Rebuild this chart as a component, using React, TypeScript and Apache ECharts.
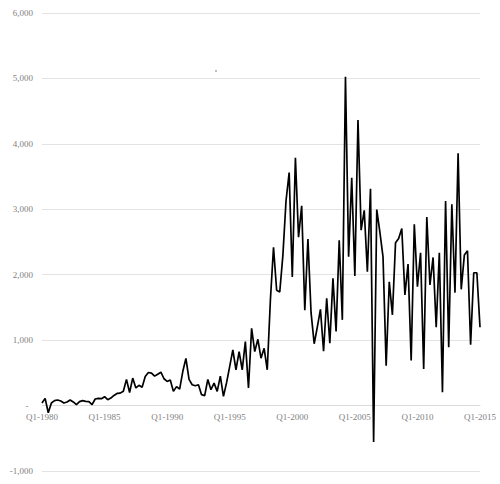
import React, { useEffect, useRef } from "react";
import * as echarts from "echarts";

const START_YEAR = 1980;
const COUNT = 141;
const categories: string[] = Array.from({ length: COUNT }, (_, i) => `Q${(i % 4) + 1}-${START_YEAR + Math.floor(i / 4)}`);

const values: number[] = [
  40, 110, -110, 40, 75, 85, 70, 40, 55, 85,
  55, 15, 60, 75, 65, 60, 15, 100, 110, 105,
  135, 90, 115, 155, 185, 190, 220, 400, 200, 420,
  270, 310, 280, 444, 505, 495, 450, 480, 510, 410,
  369, 390, 217, 290, 250, 520, 722, 400, 318, 303,
  318, 167, 152, 400, 242, 343, 217, 450, 141, 350,
  600, 850, 547, 825, 547, 977, 268, 1180, 825, 1013,
  724, 876, 547, 1610, 2420, 1762, 1737, 2300, 3130, 3560,
  1965, 3787, 2572, 3053, 1458, 2547, 1420, 945, 1200, 1470,
  830, 1640, 954, 1944, 1132, 2528, 1310, 5025, 2274, 3482,
  1980, 4365, 2680, 2985, 2046, 3315, -558, 2995, 2650, 2274,
  609, 1893, 1386, 2487, 2553, 2706, 1690, 2162, 690, 2772,
  1817, 2335, 558, 2883, 1843, 2264, 1198, 2335, 203, 3127,
  893, 3076, 1726, 3858, 1777, 2300, 2365, 929, 2030, 2030,
  1198,
];

const Y_MIN = -1000;
const Y_MAX = 6000;
const Y_STEP = 1000;

const W = 500;
const H = 484;
const GRID = { left: 42, right: 20, top: 13, bottom: 13 };

export default function App() {
  const ref = useRef<HTMLDivElement>(null);
  useEffect(() => {
    if (!ref.current) return;
    const chart = echarts.init(ref.current, undefined, { renderer: "svg" });
    const font = "'Liberation Serif', 'Times New Roman', serif";
    const plotH = H - GRID.top - GRID.bottom;
    const zeroOffset = (plotH * (0 - Y_MIN)) / (Y_MAX - Y_MIN);
    chart.setOption({
      animation: false,
      backgroundColor: "#ffffff",
      grid: { ...GRID, containLabel: false, outerBoundsMode: "none" },
      xAxis: {
        type: "category",
        data: categories,
        boundaryGap: false,
        position: "bottom",
        offset: -zeroOffset,
        axisLine: { show: true, onZero: false, lineStyle: { color: "#d9d9d9", width: 1 } },
        axisTick: { show: false },
        axisLabel: {
          interval: 19,
          color: "#7f7f7f",
          fontFamily: font,
          fontSize: 9,
          margin: 7,
        },
        splitLine: { show: false },
      },
      yAxis: {
        type: "value",
        min: Y_MIN,
        max: Y_MAX,
        interval: Y_STEP,
        axisLine: { show: false },
        axisTick: { show: false },
        axisLabel: {
          color: "#7f7f7f",
          fontFamily: font,
          fontSize: 9,
          margin: 9,
          formatter: (v: number) => (v === 0 ? "-  " : v.toLocaleString("en-US")),
        },
        splitLine: { lineStyle: { color: "#e3e3e3", width: 1 } },
      },
      series: [
        {
          type: "line",
          data: values,
          showSymbol: false,
          symbol: "none",
          lineStyle: { color: "#000000", width: 1.7 },
        },
      ],
      graphic: [
        { type: "rect", shape: { x: 215.5, y: 70.5, width: 1, height: 1 }, style: { fill: "#000" } },
      ],
    });
    return () => chart.dispose();
  }, []);
  return (
    <div
      ref={ref}
      style={{ position: "absolute", left: 0, top: 0, width: W, height: H, background: "#fff" }}
    />
  );
}
